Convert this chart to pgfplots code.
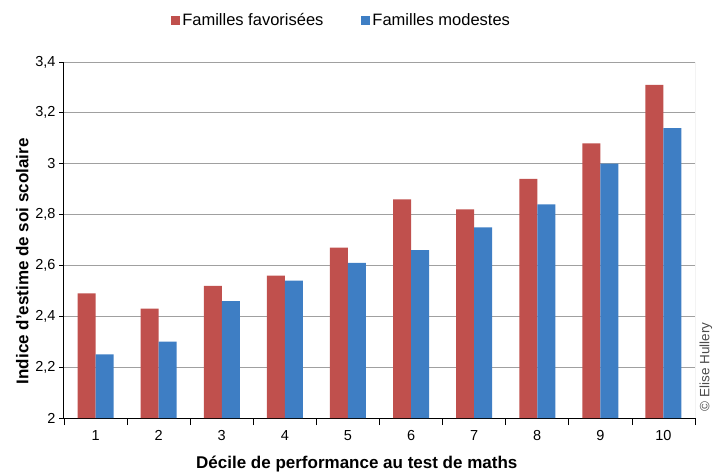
\documentclass[border=0pt]{standalone}
\usepackage{pgfplots}
\pgfplotsset{compat=1.18}
\usepackage{fontspec}
\setmainfont{Liberation Sans}
\definecolor{favred}{RGB}{192,80,77}
\definecolor{modblue}{RGB}{62,126,196}
\definecolor{gridgray}{RGB}{160,160,160}
\begin{document}
\begin{tikzpicture}[x=1pt,y=1pt]
\useasboundingbox (0,0) rectangle (713,472);
\begin{axis}[
    at={(64pt,54pt)}, anchor=south west,
    scale only axis,
    width=631pt, height=356pt,
    ybar=0pt,
    bar width=18pt,
    xmin=0.5, xmax=10.5,
    ymin=2, ymax=3.4,
    xtick={1,...,10},
    minor xtick={0.5,1.5,...,10.5},
    ytick={2,2.2,...,3.4},
    major x tick style={draw=none},
    minor tick length=7pt,
    major tick length=5pt,
    tick align=outside,
    tick style={black, line width=0.8pt},
    y tick label style={/pgf/number format/.cd, use comma, fixed, precision=1},
    /pgf/number format/assume math mode=true,
    ticklabel style={font=\fontsize{14.5}{16}\selectfont},
    xticklabel style={yshift=-4pt},
    axis lines*=left,
    axis line style={-, black, line width=1pt},
    ymajorgrids=true,
    grid style={gridgray, line width=1pt},
    xlabel={\bfseries Décile de performance au test de maths},
    ylabel={\bfseries Indice d'estime de soi scolaire},
    label style={font=\fontsize{17}{19}\selectfont},
    xlabel style={at={(rel axis cs:0.464,0)}, anchor=north, yshift=-34pt},
    ylabel style={at={(rel axis cs:0,0.44)}, anchor=south, yshift=32pt},
    legend style={at={(0.44,1.118)}, anchor=center, draw=none, fill=none,
        legend columns=2, font=\fontsize{16.5}{18}\selectfont,
        /tikz/every even column/.append style={column sep=36pt}},
    legend image code/.code={\fill[#1] (0pt,-5pt) rectangle (9pt,4pt);},
]
\addplot+[draw=none, fill=favred] coordinates {
    (1,2.49) (2,2.43) (3,2.52) (4,2.56) (5,2.67) (6,2.86) (7,2.82) (8,2.94) (9,3.08) (10,3.31)
};
\addplot+[draw=none, fill=modblue] coordinates {
    (1,2.25) (2,2.30) (3,2.46) (4,2.54) (5,2.61) (6,2.66) (7,2.75) (8,2.84) (9,3.00) (10,3.14)
};
\legend{Familles favorisées, Familles modestes}
\draw[gridgray, line width=1pt] (rel axis cs:0,1) -- (rel axis cs:1,1) -- (rel axis cs:1,0);
\end{axis}
\node[rotate=90, anchor=center, font=\fontsize{13.5}{15}\selectfont, text=black!70] at (706,105) {© Elise Hullery};
\end{tikzpicture}
\end{document}
